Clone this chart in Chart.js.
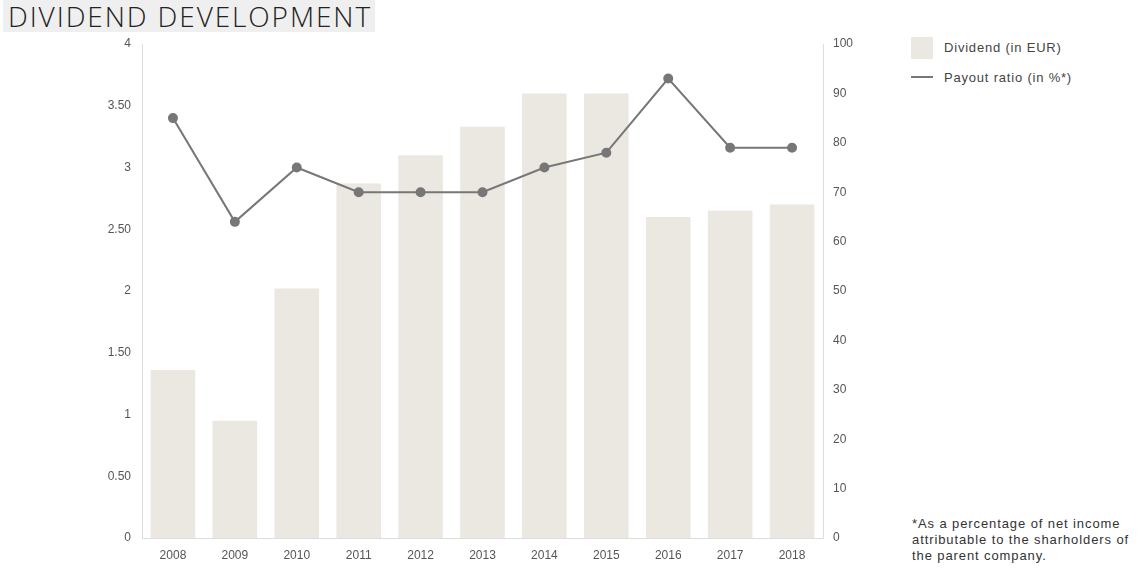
<!DOCTYPE html>
<html>
<head>
<meta charset="utf-8">
<script src="https://cdn.jsdelivr.net/npm/chart.js@4/dist/chart.umd.min.js"></script>
<style>
  body { margin: 0; background: #fff; width: 1141px; height: 576px; overflow: hidden; position: relative; font-family: "Liberation Sans", Arial, sans-serif; }
  .title { position: absolute; left: 3px; top: 0; width: 372px; height: 32px; background: #efefef; }
  .title span { position: absolute; left: 5px; top: -3px; font-family: "Open Sans", sans-serif; font-weight: 300; font-size: 28px; color: #222; letter-spacing: 1.9px; white-space: nowrap; }
  .chartbox { position: absolute; left: 0; top: 0; width: 900px; height: 576px; }
  .legend { position: absolute; left: 911px; top: 37px; font-family: "Liberation Sans", Arial, sans-serif; font-size: 13px; letter-spacing: 0.8px; color: #444; }
  .legend .sw { position: absolute; left: 0; top: 0; width: 22px; height: 22px; background: #ebe8e2; }
  .legend .ln { position: absolute; left: 0; top: 39px; width: 22px; height: 2px; background: #777; }
  .legend .tx { position: absolute; left: 33px; white-space: nowrap; }
  .note { position: absolute; left: 912px; top: 516px; font-family: "Liberation Sans", Arial, sans-serif; font-size: 13px; letter-spacing: 0.9px; line-height: 16px; color: #333; white-space: nowrap; }
</style>
</head>
<body>
<div class="title"><span>DIVIDEND DEVELOPMENT</span></div>
<div class="chartbox"><canvas id="chart"></canvas></div>
<div class="legend">
  <div class="sw"></div><div class="tx" style="top:3px">Dividend (in EUR)</div>
  <div class="ln"></div><div class="tx" style="top:33px">Payout ratio (in %*)</div>
</div>
<div class="note">*As a percentage of net income<br>attributable to the sharholders of<br>the parent company.</div>
<script>
// datos
const years = ['2008', '2009', '2010', '2011', '2012', '2013', '2014', '2015', '2016', '2017', '2018'];
const dividend = [1.36, 0.95, 2.02, 2.87, 3.10, 3.33, 3.60, 3.60, 2.60, 2.65, 2.70];
const payoutRatio = [85, 64, 75, 70, 70, 70, 75, 78, 93, 79, 79];

const tickFont = { family: '"Liberation Sans", Arial, sans-serif', size: 12 };
const tickColor = '#555';
const axisColor = '#dddddd';

const ctx = document.getElementById('chart').getContext('2d');
new Chart(ctx, {
    type: 'bar',
    data: {
        labels: years,
        datasets: [
            {
                type: 'line',
                label: 'Payout ratio (in %*)',
                data: payoutRatio,
                yAxisID: 'y2',
                borderColor: '#777777',
                backgroundColor: '#777777',
                borderWidth: 2,
                pointRadius: 4,
                pointHoverRadius: 4,
                tension: 0,
                order: 0
            },
            {
                label: 'Dividend (in EUR)',
                data: dividend,
                yAxisID: 'y',
                backgroundColor: '#ebe8e2',
                borderWidth: 0,
                order: 1
            }
        ]
    },
    options: {
        responsive: true,
        maintainAspectRatio: false,
        animation: false,
        layout: { padding: { top: 44, left: 0, right: 0, bottom: 0 } },
        plugins: { legend: { display: false }, tooltip: { enabled: false } },
        scales: {
            x: {
                grid: { display: false, drawTicks: false },
                border: { display: true, color: axisColor, width: 1 },
                ticks: { font: tickFont, color: tickColor, padding: 10, maxRotation: 0 },
                afterFit: (s) => { s.height = 38; }
            },
            y: {
                position: 'left',
                min: 0, max: 4,
                grid: { display: false, drawTicks: false },
                border: { display: true, color: axisColor, width: 1 },
                ticks: {
                    stepSize: 0.5, font: tickFont, color: tickColor, padding: 11,
                    callback: (v) => Number.isInteger(v) ? String(v) : v.toFixed(2)
                },
                afterFit: (s) => { s.width = 142; }
            },
            y2: {
                position: 'right',
                min: 0, max: 100,
                grid: { display: false, drawTicks: false },
                border: { display: true, color: axisColor, width: 1 },
                ticks: { stepSize: 10, font: tickFont, color: tickColor, padding: 10 },
                afterFit: (s) => { s.width = 77; }
            }
        }
    }
});
</script>
</body>
</html>
